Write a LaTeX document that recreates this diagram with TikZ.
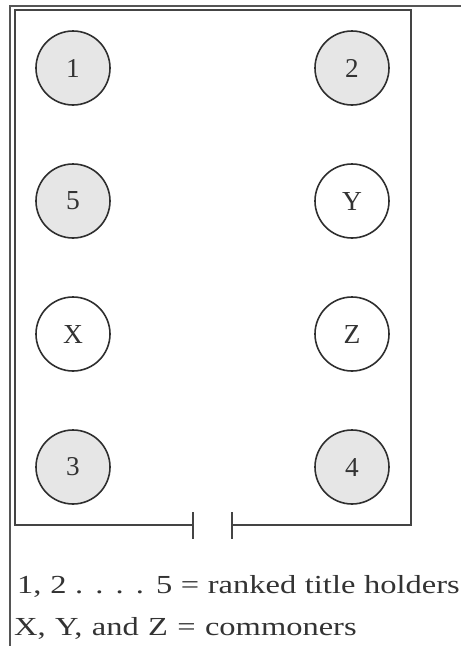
\documentclass[tikz,border=0pt]{standalone}
\usepackage{fontspec}
\setmainfont{Liberation Serif}
\newcommand\seatlbl[1]{\resizebox{!}{18pt}{#1}}
\newcommand\legendline[2]{\scalebox{1.25}[1]{\makebox[#1][s]{\fontsize{26}{30}\selectfont #2}}}
\begin{document}
\begin{tikzpicture}[x=1pt,y=-1pt,
  seat/.style={circle, draw=linec, line width=1.6pt, minimum size=74pt, inner sep=0pt, text=textc},
  titled/.style={seat, fill=seatgrey},
  common/.style={seat, fill=white},
  wall/.style={draw=wallc, line width=2pt},
  frameline/.style={draw=framec, line width=1.5pt},
  legend/.style={anchor=base west, inner sep=0pt, text=textc}]
\definecolor{linec}{HTML}{2E2E2E}
\definecolor{seatgrey}{HTML}{E6E6E6}
\definecolor{wallc}{HTML}{444444}
\definecolor{framec}{HTML}{555555}
\definecolor{textc}{HTML}{333333}
\useasboundingbox (0,0) rectangle (461,646);
\fill[white] (0,0) rectangle (461,646);
% outer frame
\coordinate (ftr) at (461,6);
\coordinate (ftl) at (10,6);
\coordinate (fbl) at (10,646);
\draw[frameline] (ftr) -- (ftl) -- (fbl);
% room walls
\coordinate (dl) at (193,525);
\coordinate (dr) at (232,525);
\coordinate (wbl) at (15,525);
\coordinate (wtl) at (15,10);
\coordinate (wtr) at (411,10);
\coordinate (wbr) at (411,525);
\draw[wall] (dl) -- (wbl) -- (wtl) -- (wtr) -- (wbr) -- (dr);
\draw[wall] ([yshift=13pt]dl) -- ([yshift=-14pt]dl);
\draw[wall] ([yshift=13pt]dr) -- ([yshift=-14pt]dr);
% seats
\node[titled] (s1) at (73,68) {\seatlbl{1}};
\node[titled] (s2) at (352,68) {\seatlbl{2}};
\node[titled] (s5) at (73,201) {\seatlbl{5}};
\node[common] (sY) at (352,201) {\seatlbl{Y}};
\node[common] (sX) at (73,334) {\seatlbl{X}};
\node[common] (sZ) at (352,334) {\seatlbl{Z}};
\node[titled] (s3) at (73,467) {\seatlbl{3}};
\node[titled] (s4) at (352,467) {\seatlbl{4}};
% legend
\node[legend] (l1) at (17,593) {\legendline{354pt}{1, 2 . . . . 5 = ranked title holders}};
\node[legend] (l2) at (14,635) {\legendline{274pt}{X, Y, and Z = commoners}};
\end{tikzpicture}
\end{document}
